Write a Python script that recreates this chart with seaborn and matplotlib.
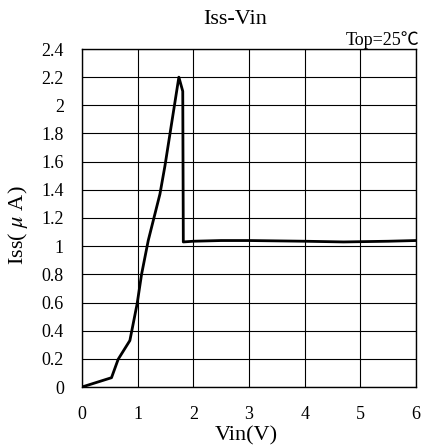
import matplotlib
matplotlib.use("Agg")
import matplotlib.pyplot as plt
import seaborn as sns
import pandas as pd

vin = [0.0, 0.53, 0.65, 0.86, 0.99, 1.07, 1.19, 1.40, 1.49, 1.74, 1.81, 1.82, 2.0, 2.5, 3.0, 4.0, 4.7, 5.5, 6.0]
iss = [0.0, 0.066, 0.197, 0.33, 0.59, 0.80, 1.04, 1.37, 1.57, 2.20, 2.10, 1.03, 1.035, 1.04, 1.04, 1.035, 1.03, 1.035, 1.04]
xticks = [0, 1, 2, 3, 4, 5, 6]
yticks = [0, 0.2, 0.4, 0.6, 0.8, 1, 1.2, 1.4, 1.6, 1.8, 2, 2.2, 2.4]
ytick_labels = ["0", "0.2", "0.4", "0.6", "0.8", "1", "1.2", "1.4", "1.6", "1.8", "2", "2.2", "2.4"]

sns.set_theme(style="white")
plt.rcParams['font.family'] = ['Liberation Serif', 'Noto Sans CJK SC']
plt.rcParams['mathtext.fontset'] = 'stix'
plt.rcParams['text.color'] = 'black'
plt.rcParams['xtick.color'] = 'black'
plt.rcParams['ytick.color'] = 'black'

df = pd.DataFrame({"Vin": vin, "Iss": iss})

fig = plt.figure(figsize=(4.22, 4.46), dpi=100)
ax = fig.add_axes([82/422, 59/446, 334/422, 338/446])
sns.lineplot(data=df, x="Vin", y="Iss", sort=False, estimator=None, color="black", lw=2.0, ax=ax, zorder=3)

ax.set_xlim(0, 6)
ax.set_ylim(0, 2.4)
ax.set_xticks(xticks)
ax.set_xticklabels([str(t) for t in xticks], fontsize=13, color="black")
ax.set_yticks(yticks)
ax.set_yticklabels(ytick_labels, fontsize=13, color="black")
ax.tick_params(axis="y", length=0, pad=13, colors="black")
ax.tick_params(axis="x", length=0, pad=14, colors="black")
ax.grid(True, color="black", lw=0.8)
for s in ax.spines.values():
    s.set_color("black")
    s.set_linewidth(1.0)
ax.set_xlabel("")
ax.set_ylabel("")

fig.text(246/422, 1 - 436/446, "Vin(V)", ha="center", va="center", fontsize=16, color="black")
fig.text(18/422, 1 - 225/446, r"Iss( $\mu$ A)", ha="center", va="center", rotation=90, fontsize=16, color="black")
fig.text(235/422, 1 - 20/446, "Iss-Vin", ha="center", va="center", fontsize=16, color="black")
fig.text(419/422, 1 - 40/446, "Top=25℃", ha="right", va="center", fontsize=13, color="black")

fig.savefig("out.png", dpi=100)
